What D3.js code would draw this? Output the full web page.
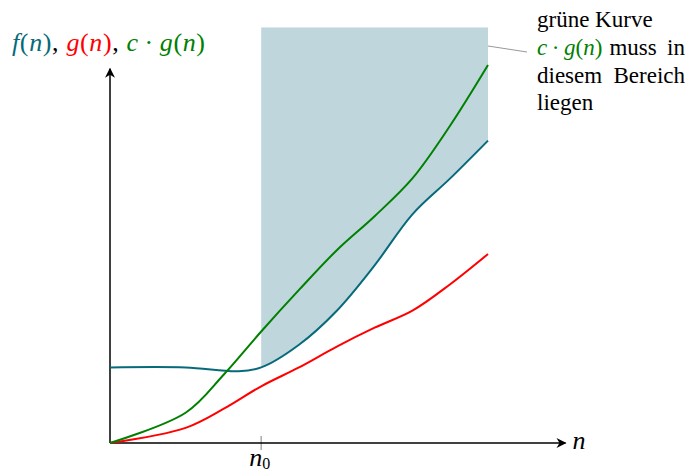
<!DOCTYPE html>
<html>
<head>
<meta charset="utf-8">
<script src="https://cdn.jsdelivr.net/npm/d3@7"></script>
<style>
  body { margin: 0; background: #fff; }
  svg { display: block; }
</style>
</head>
<body>
<script>
// Big-O sketch: f(n), g(n) and c*g(n) with the region c*g(n) has to stay in

// Curve points (n, value)
let fPoints = [[0, 2], [2, 2], [3.4, 1.9], [4, 2], [5, 2.6], [6, 3.5], [7, 4.7], [8, 6.05], [9, 7.0], [10, 8]];
let gPoints = [[0, 0], [2, 0.4], [3, 0.9], [4, 1.5], [5, 2.0], [6, 2.55], [7, 3.05], [8, 3.5], [9, 4.2], [10, 5]];
let cgPoints = [[0, 0], [2, 0.8], [3, 1.8], [4, 2.95], [5, 4.05], [6, 5.1], [7, 6.0], [8, 7.0], [9, 8.4], [10, 10]];

// n0 tick and the shaded region
let n0 = 4;
let regionEnd = 10;
let regionTop = 11;

let noteLines = ["grüne Kurve", ["muss", "in"], ["diesem", "Bereich"], "liegen"];

let colTeal = "#066a7a",
	colRed = "#ff0000",
	colGreen = "#008000",
	colFill = "#bfd6dd";

let width = 688, height = 474;
let unit = 37.8; // one unit of the sketch in pixels
let ox = 110, oy = 443;
let serif = "'Liberation Serif', 'Times New Roman', Times, 'DejaVu Serif', serif";

let svg = d3.select("body").append("svg")
	.attr("width", width)
	.attr("height", height)
	.attr("font-family", serif)
	.style("font-family", serif);

let x = d3.scaleLinear().domain([0, 12]).range([ox, ox + 12 * unit]);
let y = d3.scaleLinear().domain([0, 11]).range([oy, oy - 11 * unit]);

let curve = d3.curveCatmullRom.alpha(0.5);

// Shaded region above f(n), between n0 and the end of the curves
svg.append("clipPath").attr("id", "regionClip")
	.append("rect")
	.attr("x", x(n0))
	.attr("y", y(regionTop))
	.attr("width", x(regionEnd) - x(n0))
	.attr("height", y(0) - y(regionTop));

svg.append("path")
	.datum(fPoints)
	.attr("clip-path", "url(#regionClip)")
	.attr("fill", colFill)
	.attr("d", d3.area()
		.x(d => x(d[0]))
		.y0(y(regionTop))
		.y1(d => y(d[1]))
		.curve(curve));

// Tick for n0
svg.append("line")
	.attr("x1", x(n0)).attr("x2", x(n0))
	.attr("y1", oy - 7).attr("y2", oy + 7)
	.attr("stroke", "#aaa")
	.attr("stroke-width", 1.5);

// Axes with stealth-like arrow heads
let arrow = (x1, y1, x2, y2) => {
	svg.append("line")
		.attr("x1", x1).attr("y1", y1)
		.attr("x2", x2).attr("y2", y2)
		.attr("stroke", "#000")
		.attr("stroke-width", 1.5);
	let a = Math.atan2(y2 - y1, x2 - x1) * 180 / Math.PI;
	svg.append("path")
		.attr("d", "M1,0 L-9,-5 L-6,0 L-9,5 Z")
		.attr("fill", "#000")
		.attr("transform", "translate(" + x2 + "," + y2 + ") rotate(" + a + ")");
};

arrow(x(0), y(0), x(12.05), y(0));
arrow(x(0), y(0), x(0), y(9.9));

// The three curves
let line = d3.line()
	.x(d => x(d[0]))
	.y(d => y(d[1]))
	.curve(curve);

[[fPoints, colTeal], [gPoints, colRed], [cgPoints, colGreen]].forEach(function (c) {
	svg.append("path")
		.datum(c[0])
		.attr("fill", "none")
		.attr("stroke", c[1])
		.attr("stroke-width", 2)
		.attr("stroke-linejoin", "round")
		.attr("d", line);
});

// Little helper for math text: italic letters, upright brackets
let mathText = (sel, parts) => {
	parts.forEach(function (p) {
		let t = sel.append("tspan").text(p[0]);
		if (p[1]) t.attr("font-style", "italic");
		if (p[2]) t.attr("fill", p[2]);
		if (p[3]) t.attr("dy", p[3]);
		if (p[4]) t.attr("font-size", p[4]);
	});
};

let fn = (letter, col) => [[letter, true, col], ["(", false, col], ["n", true, col], [")", false, col]];

// Title at the top of the y axis
let title = svg.append("text")
	.attr("x", 12)
	.attr("y", 51)
	.attr("font-size", 26)
	.attr("textLength", 193)
	.attr("lengthAdjust", "spacing");

mathText(title, []
	.concat(fn("f", colTeal))
	.concat([[", ", false, "#000"]])
	.concat(fn("g", colRed))
	.concat([[", ", false, "#000"]])
	.concat([["c", true, colGreen], ["\u2009\u00b7\u2009", false, colGreen]])
	.concat(fn("g", colGreen)));

// Axis labels
svg.append("text")
	.attr("x", x(12) + 9)
	.attr("y", oy + 6)
	.attr("font-size", 26)
	.attr("font-style", "italic")
	.text("n");

let n0Label = svg.append("text")
	.attr("x", x(n0) - 12)
	.attr("y", oy + 23)
	.attr("font-size", 26);
mathText(n0Label, [["n", true], ["0", false, null, 3, 16]]);

// Note at the top right, with a thin pointer into the region
svg.append("line")
	.attr("x1", x(regionEnd))
	.attr("y1", 46)
	.attr("x2", x(regionEnd) + 39)
	.attr("y2", 52)
	.attr("stroke", "#999")
	.attr("stroke-width", 1);

let noteX = 537, noteRight = 685, noteY = 27, lineGap = 27.8, noteSize = 23;

let noteText = (tx, ty, str, anchor) => svg.append("text")
	.attr("x", tx).attr("y", ty)
	.attr("font-size", noteSize)
	.attr("text-anchor", anchor || "start")
	.text(str);

noteText(noteX, noteY, noteLines[0]);

// second line: green math, then a justified "muss ... in"
let note2 = svg.append("text")
	.attr("x", noteX).attr("y", noteY + lineGap)
	.attr("font-size", noteSize);
mathText(note2, [["c", true, colGreen], ["\u2009\u00b7\u2009", false, colGreen]].concat(fn("g", colGreen)));
let mathEnd = noteX + note2.node().getComputedTextLength();
noteText(mathEnd + 7, noteY + lineGap, noteLines[1][0]);
noteText(noteRight, noteY + lineGap, noteLines[1][1], "end");

// third line, justified
noteText(noteX, noteY + 2 * lineGap, noteLines[2][0]);
noteText(noteRight, noteY + 2 * lineGap, noteLines[2][1], "end");

noteText(noteX, noteY + 3 * lineGap, noteLines[3]);
</script>
</body>
</html>
